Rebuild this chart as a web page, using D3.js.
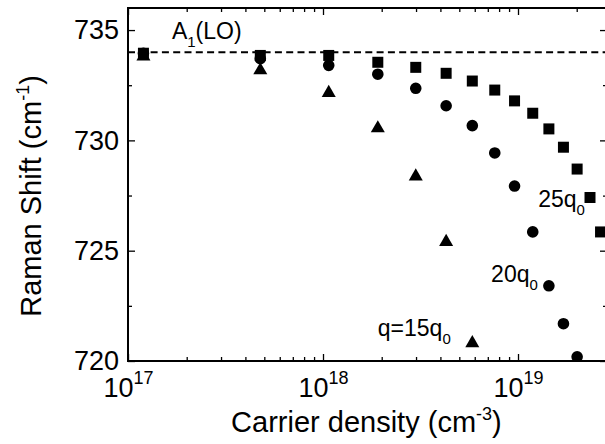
<!DOCTYPE html>
<html>
<head>
<meta charset="utf-8">
<script src="https://cdn.jsdelivr.net/npm/d3@7"></script>
<style>
  body { margin: 0; background: #fff; }
  svg { display: block; font-family: "Liberation Sans", Arial, sans-serif; }
</style>
</head>
<body>
<svg class="chart" width="605" height="444"></svg>
<script>
// carrier densities (cm^-3), shared by the three series
const density = [1.2e17, 4.77e17, 1.07e18, 1.91e18, 2.99e18, 4.28e18, 5.83e18,
                 7.6e18, 9.6e18, 1.19e19, 1.44e19, 1.71e19, 2.01e19, 2.34e19, 2.65e19]

// Raman shift (cm^-1) for each wavevector
const shift25 = [733.95, 733.85, 733.85, 733.54, 733.31, 733.04, 732.69,
                 732.28, 731.79, 731.23, 730.52, 729.69, 728.70, 727.41, 725.85]
const shift20 = [733.95, 733.7, 733.4, 733.0, 732.36, 731.57, 730.67,
                 729.43, 727.93, 725.85, 723.41, 721.69, 720.19]
const shift15 = [733.9, 733.27, 732.24, 730.64, 728.46, 725.49, 720.9]

const loLine = 734.0
const yMajor = [720, 725, 730, 735]
const yMinor = [722.5, 727.5, 732.5]
const xMajor = [1e17, 1e18, 1e19]

var margin = {top: 8, right: 0, bottom: 83, left: 128}
  , width = 479
  , height = 353

var x = d3.scaleLog()
    .domain([1e17, 2.86e19])
    .range([0, width])

var y = d3.scaleLinear()
    .domain([720, 736])
    .range([height, 0])

var svg = d3.select(".chart")

svg.append("defs").append("clipPath")
    .attr("id", "plot-clip")
    .append("rect")
    .attr("width", width)
    .attr("height", height)

var graph = svg.append("g")
    .attr("transform", "translate(" + margin.left + "," + margin.top + ")")

// minor x ticks: 2..9 in each decade
const xMinor = []
xMajor.forEach(d => { for (let k = 2; k <= 9; k++) { if (d * k <= 2.86e19) xMinor.push(d * k) } })

function styleAxis(g) {
    g.select(".domain").remove()
    g.selectAll("line").attr("stroke", "#000").attr("stroke-width", 1.3)
}

// left axis
graph.append("g")
    .call(d3.axisLeft(y).tickValues(yMajor).tickSize(-7).tickPadding(9).tickFormat(d3.format("d")))
    .call(styleAxis)
    .selectAll("text")
    .attr("font-size", 27)
    .attr("fill", "#000")
    .attr("font-family", "Liberation Sans, Arial, sans-serif")

graph.append("g")
    .call(d3.axisLeft(y).tickValues(yMinor).tickSize(-4).tickFormat(""))
    .call(styleAxis)

// right axis
graph.append("g")
    .attr("transform", "translate(" + width + ",0)")
    .call(d3.axisRight(y).tickValues(yMajor).tickSize(-7).tickFormat(""))
    .call(styleAxis)
graph.append("g")
    .attr("transform", "translate(" + width + ",0)")
    .call(d3.axisRight(y).tickValues(yMinor).tickSize(-4).tickFormat(""))
    .call(styleAxis)

// bottom axis
const xAxis = graph.append("g")
    .attr("transform", "translate(0," + height + ")")
    .call(d3.axisBottom(x).tickValues(xMajor).tickSize(-7).tickPadding(17).tickFormat(""))
    .call(styleAxis)

xAxis.selectAll(".tick text")
    .attr("font-size", 27)
    .attr("fill", "#000")
    .attr("font-family", "Liberation Sans, Arial, sans-serif")
    .each(function(d) {
        const t = d3.select(this)
        t.append("tspan").text("10")
        t.append("tspan").text(Math.round(Math.log10(d)))
            .attr("font-size", 18).attr("dy", -13)
    })

graph.append("g")
    .attr("transform", "translate(0," + height + ")")
    .call(d3.axisBottom(x).tickValues(xMinor).tickSize(-4).tickFormat(""))
    .call(styleAxis)

// top axis
graph.append("g")
    .call(d3.axisTop(x).tickValues(xMajor).tickSize(-7).tickFormat(""))
    .call(styleAxis)
graph.append("g")
    .call(d3.axisTop(x).tickValues(xMinor).tickSize(-4).tickFormat(""))
    .call(styleAxis)

// frame
graph.append("rect")
    .attr("width", width)
    .attr("height", height)
    .attr("fill", "none")
    .attr("stroke", "#000")
    .attr("stroke-width", 2)

// A1(LO) reference line
graph.append("line")
    .attr("x1", 0)
    .attr("x2", width)
    .attr("y1", y(loLine))
    .attr("y2", y(loLine))
    .attr("stroke", "#000")
    .attr("stroke-width", 2)
    .attr("stroke-dasharray", "7,4.3")

// markers
const marks = graph.append("g").attr("clip-path", "url(#plot-clip)")

const series = [
    {values: shift25, symbol: d3.symbolSquare, size: 121, dy: 0},
    {values: shift20, symbol: d3.symbolCircle, size: 106, dy: 0},
    {values: shift15, symbol: d3.symbolTriangle, size: 85, dy: 2}
]

series.forEach(s => {
    marks.selectAll(null)
        .data(s.values)
        .enter().append("path")
        .attr("d", d3.symbol().type(s.symbol).size(s.size))
        .attr("transform", (d, i) => "translate(" + x(density[i]) + "," + (y(d) + s.dy) + ")")
        .attr("fill", "#000")
})

// annotations
const labels = [
    {main: "A", sub: "1", rest: "(LO)", xv: 1.68e17, yv: 734.58},
    {main: "25q", sub: "0", rest: "", xv: 1.27e19, yv: 727.0},
    {main: "20q", sub: "0", rest: "", xv: 7.28e18, yv: 723.6},
    {main: "q=15q", sub: "0", rest: "", xv: 1.91e18, yv: 721.13}
]

labels.forEach(l => {
    const t = graph.append("text")
        .attr("x", x(l.xv))
        .attr("y", y(l.yv))
        .attr("font-size", 23)
        .attr("fill", "#000")
    t.append("tspan").text(l.main)
    t.append("tspan").text(l.sub).attr("font-size", 15).attr("dy", 8)
    if (l.rest) t.append("tspan").text(l.rest).attr("dy", -8)
})

// axis titles
svg.append("text")
    .attr("transform", "translate(41," + (margin.top + y(727.48)) + ") rotate(-90)")
    .attr("text-anchor", "middle")
    .attr("font-size", 29)
    .attr("fill", "#000")
    .call(t => {
        t.append("tspan").text("Raman Shift (cm")
        t.append("tspan").text("-1").attr("font-size", 18).attr("dy", -12)
        t.append("tspan").text(")").attr("dy", 12)
    })

svg.append("text")
    .attr("transform", "translate(" + (margin.left + x(1.67e18)) + ",432)")
    .attr("text-anchor", "middle")
    .attr("font-size", 29)
    .attr("fill", "#000")
    .call(t => {
        t.append("tspan").text("Carrier density (cm")
        t.append("tspan").text("-3").attr("font-size", 18).attr("dy", -12)
        t.append("tspan").text(")").attr("dy", 12)
    })
</script>
</body>
</html>
